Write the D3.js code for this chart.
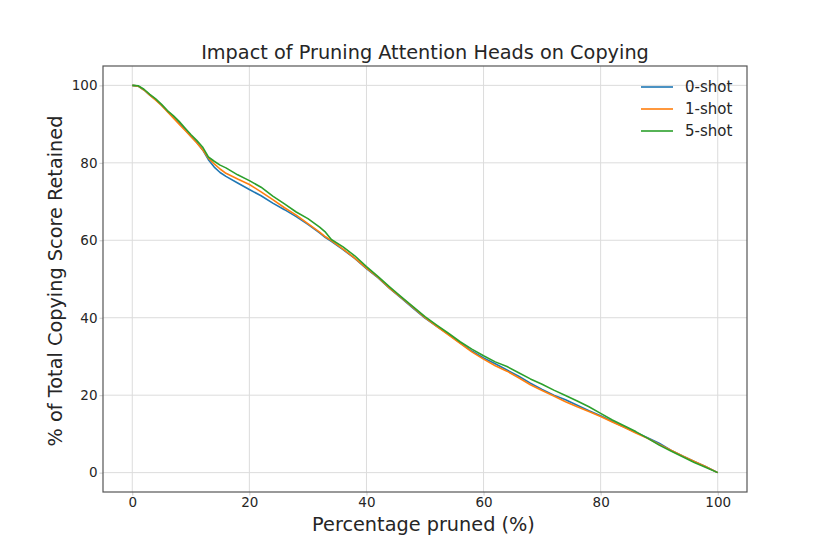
<!DOCTYPE html>
<html>
<head>
<meta charset="utf-8">
<script src="https://cdn.jsdelivr.net/npm/d3@7"></script>
<style>
  body { margin: 0; background: #fff; }
  svg { font-family: "DejaVu Sans", sans-serif; }
</style>
</head>
<body>
<svg width="830" height="554"></svg>
<script>
// percentage of heads pruned
var pruned = [0, 1, 2, 3, 4, 5, 6, 7, 8, 9, 10, 11, 12, 13, 14, 15, 16, 18, 20, 22, 24, 26, 28, 30, 32, 33, 34, 36, 38, 40,
    42, 44, 46, 48, 50, 52, 54, 56, 58, 60, 62, 64, 66, 68, 70, 72, 74, 76, 78, 80, 82, 84, 86, 88, 90, 92, 94, 96, 98, 100];

var shot0 = [100, 99.8, 98.8, 97.5, 96.3, 94.9, 93.3, 91.8, 90.3, 88.6, 86.9, 85.3, 83.4, 80.8, 78.9, 77.5, 76.5, 74.8, 73.1, 71.5,
    69.6, 67.9, 66.1, 64.1, 61.9, 60.7, 59.7, 57.6, 55.3, 52.7,
    50.3, 47.5, 45.0, 42.4, 39.9, 37.8, 35.7, 33.5, 31.4, 29.6, 28.1, 26.5, 24.9, 23.1, 21.5, 20.0, 18.8, 17.4, 16.0, 14.7,
    13.2, 11.8, 10.4, 9.0, 7.6, 5.8, 4.3, 2.9, 1.5, 0];

var shot1 = [100, 99.8, 98.8, 97.5, 96.2, 94.8, 93.2, 91.6, 90.0, 88.4, 86.8, 85.2, 83.4, 81.2, 79.7, 78.4, 77.3, 75.8, 74.4, 72.5,
    70.5, 68.4, 66.5, 64.3, 62.1, 60.9, 59.9, 57.7, 55.4, 52.8,
    50.4, 47.6, 45.1, 42.6, 40.0, 37.8, 35.6, 33.4, 31.2, 29.3, 27.6, 26.2, 24.5, 22.7, 21.2, 19.8, 18.3, 17.0, 15.8, 14.5,
    13.1, 11.7, 10.2, 8.9, 7.3, 5.8, 4.3, 2.9, 1.5, 0];

var shot5 = [100, 99.9, 99.0, 97.7, 96.5, 95.1, 93.5, 92.2, 90.7, 89.0, 87.3, 85.8, 84.1, 81.5, 80.4, 79.4, 78.7, 76.9, 75.4, 73.7,
    71.4, 69.4, 67.3, 65.6, 63.4, 62.1, 60.2, 58.3, 56.0, 53.2,
    50.6, 47.9, 45.3, 42.8, 40.3, 38.1, 36.0, 33.8, 31.9, 30.2, 28.6, 27.4, 25.8, 24.2, 22.8, 21.3, 19.9, 18.5, 17.0, 15.3,
    13.6, 12.1, 10.6, 8.9, 7.1, 5.6, 4.1, 2.6, 1.3, 0];

var seriesNames = ["0-shot", "1-shot", "5-shot"];
var seriesValues = [shot0, shot1, shot5];
var colors = ["#1f77b4", "#ff7f0e", "#2ca02c"];
var xTicks = [0, 20, 40, 60, 80, 100];
var yTicks = [0, 20, 40, 60, 80, 100];

var pLeft = 103, pTop = 66, pRight = 747, pBottom = 492;

var svg = d3.select("svg");

var scX = d3.scaleLinear().domain([-5, 105]).range([pLeft, pRight]);
var scY = d3.scaleLinear().domain([-5, 105]).range([pBottom, pTop]);

// grid
svg.append("g").selectAll("line").data(xTicks).enter().append("line")
    .attr("x1", d => scX(d)).attr("x2", d => scX(d))
    .attr("y1", pTop).attr("y2", pBottom)
    .attr("stroke", "#dcdcdc").attr("stroke-width", 1);
svg.append("g").selectAll("line").data(yTicks).enter().append("line")
    .attr("x1", pLeft).attr("x2", pRight)
    .attr("y1", d => scY(d)).attr("y2", d => scY(d))
    .attr("stroke", "#dcdcdc").attr("stroke-width", 1);

// axes
var xAxis = svg.append("g").attr("transform", "translate(0," + pBottom + ")")
    .call(d3.axisBottom(scX).tickValues(xTicks).tickSize(3.5).tickPadding(2));
var yAxis = svg.append("g").attr("transform", "translate(" + pLeft + ",0)")
    .call(d3.axisLeft(scY).tickValues(yTicks).tickSize(3.5).tickPadding(2));
[xAxis, yAxis].forEach(function (ax) {
    ax.select(".domain").remove();
    ax.selectAll(".tick line").attr("stroke", "#cccccc");
    ax.selectAll(".tick text").attr("fill", "#262626")
        .style("font-family", "DejaVu Sans").style("font-size", "13.5px");
});

// lines
var lineMaker = d3.line()
    .x((d, i) => scX(pruned[i]))
    .y(d => scY(d));

svg.append("g").selectAll("path").data(seriesValues).enter().append("path")
    .attr("fill", "none")
    .attr("stroke", (d, i) => colors[i])
    .attr("stroke-width", 1.6)
    .attr("stroke-linejoin", "round")
    .attr("d", d => lineMaker(d));

// frame
svg.append("rect")
    .attr("x", pLeft).attr("y", pTop)
    .attr("width", pRight - pLeft).attr("height", pBottom - pTop)
    .attr("fill", "none").attr("stroke", "#555555").attr("stroke-width", 1.2);

// title and labels
svg.append("text")
    .attr("x", (pLeft + pRight) / 2).attr("y", 59)
    .attr("text-anchor", "middle").attr("fill", "#262626")
    .style("font-size", "19.3px")
    .text("Impact of Pruning Attention Heads on Copying");

svg.append("text")
    .attr("x", 423.5).attr("y", 531)
    .attr("text-anchor", "middle").attr("fill", "#262626")
    .style("font-size", "19.3px")
    .text("Percentage pruned (%)");

svg.append("text")
    .attr("transform", "translate(62," + 281 + ") rotate(-90)")
    .attr("text-anchor", "middle").attr("fill", "#262626")
    .style("font-size", "19.3px")
    .text("% of Total Copying Score Retained");

// legend
var legend = svg.append("g").selectAll("g").data(seriesNames).enter().append("g")
    .attr("transform", (d, i) => "translate(641," + (87 + i * 22) + ")");
legend.append("line")
    .attr("x1", 0).attr("x2", 32)
    .attr("stroke", (d, i) => colors[i]).attr("stroke-width", 1.6);
legend.append("text")
    .attr("x", 44).attr("dy", "0.35em")
    .attr("fill", "#262626").style("font-size", "15px")
    .text(d => d);
</script>
</body>
</html>
